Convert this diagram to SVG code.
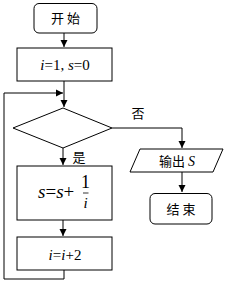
<svg xmlns="http://www.w3.org/2000/svg" width="226" height="281" viewBox="0 0 226 281">
<defs>
<style>
.s{fill:none;stroke:#000;stroke-width:1}
.b{fill:#fff;stroke:#000;stroke-width:1}
.cn{font-family:"Noto Sans CJK SC","Noto Sans",sans-serif;font-size:13px;fill:#000}
.m{font-family:"Liberation Serif","Times New Roman",serif;font-size:15px;fill:#000}
.i{font-style:italic}
</style>
<marker id="ah" markerWidth="8" markerHeight="8" refX="7" refY="4" orient="auto" markerUnits="userSpaceOnUse">
<path d="M0,0.5 L7,4 L0,7.5 Z" fill="#000"/>
</marker>
</defs>
<g id="connectors" class="s">
<line x1="64" y1="33" x2="64" y2="47" marker-end="url(#ah)"/>
<line x1="64" y1="81" x2="64" y2="107" marker-end="url(#ah)"/>
<polyline points="64,270 64,279 4,279 4,93 63,93" marker-end="url(#ah)"/>
<line x1="63" y1="148" x2="63" y2="165" marker-end="url(#ah)"/>
<line x1="63" y1="220" x2="63" y2="236" marker-end="url(#ah)"/>
<polyline points="112,128 182,128 182,148" marker-end="url(#ah)"/>
<line x1="182" y1="172" x2="182" y2="192" marker-end="url(#ah)"/>
</g>
<g id="start">
<rect class="b" x="34" y="3.5" width="63" height="29.5" rx="5"/>
<text class="cn" x="65.5" y="23" text-anchor="middle">开 始</text>
</g>
<g id="init">
<rect class="b" x="17" y="48" width="95" height="33"/>
<text class="m" x="65" y="70" text-anchor="middle"><tspan class="i">i</tspan>=1, <tspan class="i">s</tspan>=0</text>
</g>
<g id="cond">
<polygon class="b" points="63,108 112,128 63,148 13,128"/>
</g>
<g id="label-no"><text class="cn" x="138" y="118" text-anchor="middle">否</text></g>
<g id="label-yes"><text class="cn" x="79" y="162" text-anchor="middle">是</text></g>
<g id="sum">
<rect class="b" x="17" y="166" width="95" height="54"/>
<text class="m" x="38" y="198" style="font-size:19px"><tspan class="i">s</tspan>=<tspan class="i">s</tspan>+</text>
<text class="m" x="85.5" y="188" text-anchor="middle" style="font-size:18px">1</text>
<line x1="83" y1="193" x2="88.5" y2="193" stroke="#000" stroke-width="0.8"/>
<text class="m i" x="85.5" y="208" text-anchor="middle" style="font-size:15px">i</text>
</g>
<g id="inc">
<rect class="b" x="17" y="237" width="95" height="33"/>
<text class="m" x="65" y="260" text-anchor="middle"><tspan class="i">i</tspan>=<tspan class="i">i</tspan>+2</text>
</g>
<g id="output">
<polygon class="b" points="140,149 223,149 213,172 130,172"/>
<text class="cn" x="177" y="166" text-anchor="middle">输出 <tspan style="font-family:'Liberation Serif',serif;font-style:italic;font-size:14px">S</tspan></text>
</g>
<g id="end">
<rect class="b" x="150" y="193.5" width="62" height="30.5" rx="5"/>
<text class="cn" x="181" y="214" text-anchor="middle">结 束</text>
</g>
</svg>
